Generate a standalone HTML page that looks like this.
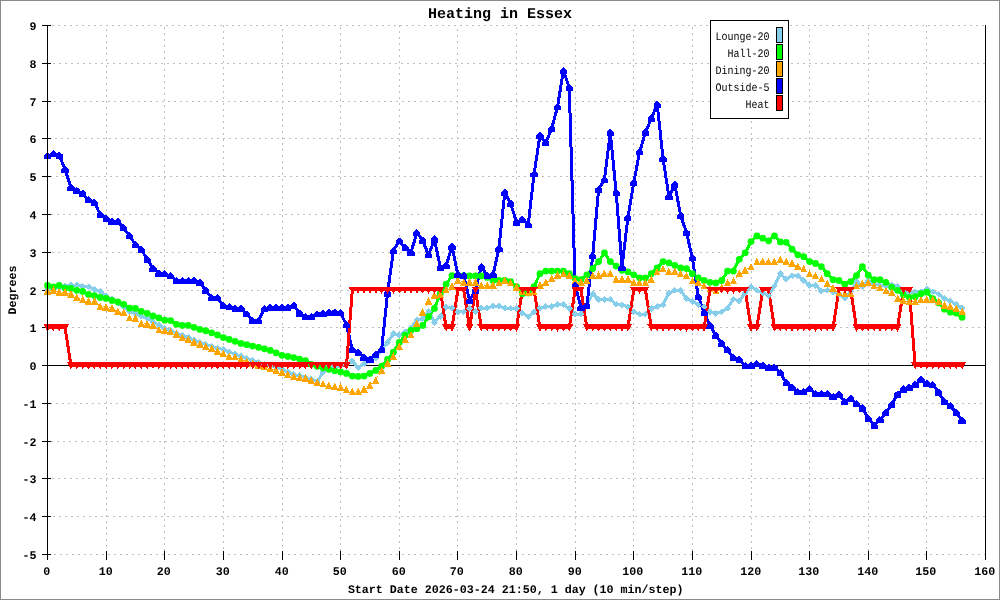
<!DOCTYPE html>
<html lang="en"><head><meta charset="utf-8"><title>Heating in Essex</title>
<style>html,body{margin:0;padding:0;background:#fff}body{width:1000px;height:600px;overflow:hidden}svg{display:block}text{font-family:"Liberation Mono","DejaVu Sans Mono",monospace;fill:#000;text-rendering:geometricPrecision}.b{font-weight:bold;font-size:11.67px}.t{font-weight:bold;font-size:15px}.l{font-size:10px}</style></head><body>
<svg width="1000" height="600" viewBox="0 0 1000 600">
<rect x="0" y="0" width="1000" height="600" fill="#fff"/>
<rect x="0.5" y="0.5" width="999" height="599" fill="none" stroke="#8a8a8a" stroke-width="1" shape-rendering="crispEdges"/>
<g stroke="#bebebe" stroke-width="1" stroke-dasharray="2 4" shape-rendering="crispEdges" fill="none">
<line x1="46" y1="554.5" x2="985" y2="554.5" stroke-dashoffset="4"/>
<line x1="46" y1="516.5" x2="985" y2="516.5" stroke-dashoffset="5"/>
<line x1="46" y1="478.5" x2="985" y2="478.5" stroke-dashoffset="0"/>
<line x1="46" y1="441.5" x2="985" y2="441.5" stroke-dashoffset="1"/>
<line x1="46" y1="403.5" x2="985" y2="403.5" stroke-dashoffset="2"/>
<line x1="46" y1="365.5" x2="985" y2="365.5" stroke-dashoffset="3"/>
<line x1="46" y1="327.5" x2="985" y2="327.5" stroke-dashoffset="4"/>
<line x1="46" y1="290.5" x2="985" y2="290.5" stroke-dashoffset="5"/>
<line x1="46" y1="252.5" x2="985" y2="252.5" stroke-dashoffset="0"/>
<line x1="46" y1="214.5" x2="985" y2="214.5" stroke-dashoffset="1"/>
<line x1="46" y1="176.5" x2="985" y2="176.5" stroke-dashoffset="2"/>
<line x1="46" y1="138.5" x2="985" y2="138.5" stroke-dashoffset="3"/>
<line x1="46" y1="101.5" x2="985" y2="101.5" stroke-dashoffset="4"/>
<line x1="46" y1="63.5" x2="985" y2="63.5" stroke-dashoffset="5"/>
<line x1="46" y1="25.5" x2="985" y2="25.5" stroke-dashoffset="0"/>
<line x1="106.5" y1="25" x2="106.5" y2="555" stroke-dashoffset="2"/>
<line x1="164.5" y1="25" x2="164.5" y2="555" stroke-dashoffset="4"/>
<line x1="223.5" y1="25" x2="223.5" y2="555" stroke-dashoffset="0"/>
<line x1="282.5" y1="25" x2="282.5" y2="555" stroke-dashoffset="2"/>
<line x1="340.5" y1="25" x2="340.5" y2="555" stroke-dashoffset="4"/>
<line x1="399.5" y1="25" x2="399.5" y2="555" stroke-dashoffset="0"/>
<line x1="457.5" y1="25" x2="457.5" y2="555" stroke-dashoffset="2"/>
<line x1="516.5" y1="25" x2="516.5" y2="555" stroke-dashoffset="4"/>
<line x1="575.5" y1="25" x2="575.5" y2="555" stroke-dashoffset="0"/>
<line x1="633.5" y1="25" x2="633.5" y2="555" stroke-dashoffset="2"/>
<line x1="692.5" y1="25" x2="692.5" y2="555" stroke-dashoffset="4"/>
<line x1="751.5" y1="25" x2="751.5" y2="555" stroke-dashoffset="0"/>
<line x1="809.5" y1="25" x2="809.5" y2="555" stroke-dashoffset="2"/>
<line x1="868.5" y1="25" x2="868.5" y2="555" stroke-dashoffset="4"/>
<line x1="926.5" y1="25" x2="926.5" y2="555" stroke-dashoffset="0"/>
</g>
<line x1="47" y1="365.5" x2="986" y2="365.5" stroke="#000" stroke-width="1" shape-rendering="crispEdges"/>
<g stroke="#000" stroke-width="1" shape-rendering="crispEdges">
<line x1="42" y1="554.5" x2="51" y2="554.5"/>
<line x1="42" y1="516.5" x2="51" y2="516.5"/>
<line x1="42" y1="478.5" x2="51" y2="478.5"/>
<line x1="42" y1="441.5" x2="51" y2="441.5"/>
<line x1="42" y1="403.5" x2="51" y2="403.5"/>
<line x1="42" y1="365.5" x2="51" y2="365.5"/>
<line x1="42" y1="327.5" x2="51" y2="327.5"/>
<line x1="42" y1="290.5" x2="51" y2="290.5"/>
<line x1="42" y1="252.5" x2="51" y2="252.5"/>
<line x1="42" y1="214.5" x2="51" y2="214.5"/>
<line x1="42" y1="176.5" x2="51" y2="176.5"/>
<line x1="42" y1="138.5" x2="51" y2="138.5"/>
<line x1="42" y1="101.5" x2="51" y2="101.5"/>
<line x1="42" y1="63.5" x2="51" y2="63.5"/>
<line x1="42" y1="25.5" x2="51" y2="25.5"/>
<line x1="106.5" y1="551" x2="106.5" y2="560"/>
<line x1="164.5" y1="551" x2="164.5" y2="560"/>
<line x1="223.5" y1="551" x2="223.5" y2="560"/>
<line x1="282.5" y1="551" x2="282.5" y2="560"/>
<line x1="340.5" y1="551" x2="340.5" y2="560"/>
<line x1="399.5" y1="551" x2="399.5" y2="560"/>
<line x1="457.5" y1="551" x2="457.5" y2="560"/>
<line x1="516.5" y1="551" x2="516.5" y2="560"/>
<line x1="575.5" y1="551" x2="575.5" y2="560"/>
<line x1="633.5" y1="551" x2="633.5" y2="560"/>
<line x1="692.5" y1="551" x2="692.5" y2="560"/>
<line x1="751.5" y1="551" x2="751.5" y2="560"/>
<line x1="809.5" y1="551" x2="809.5" y2="560"/>
<line x1="868.5" y1="551" x2="868.5" y2="560"/>
<line x1="926.5" y1="551" x2="926.5" y2="560"/>
</g>
<g fill="#87ceeb" stroke="#87ceeb" shape-rendering="crispEdges">
<polyline points="47.5,289.55 53.36,288.42 59.23,287.66 65.09,286.15 70.95,285.02 76.81,285.02 82.67,286.53 88.54,286.91 94.4,289.55 100.26,291.44 106.12,295.6 111.99,299.37 117.85,303.15 123.71,307.31 129.57,311.47 135.44,313.73 141.3,316 147.16,318.46 153.02,321.67 158.89,325.07 164.75,328.47 170.61,330.74 176.47,333 182.34,335.27 188.2,337.54 194.06,340.18 199.92,342.45 205.79,344.34 211.65,346.23 217.51,348.12 223.38,349.63 229.24,351.9 235.1,354.16 240.96,356.24 246.82,358.32 252.69,360.4 258.55,362.48 264.41,364.37 270.27,365.88 276.14,367.58 282,369.28 287.86,371.92 293.73,374.57 299.59,375.7 305.45,377.21 311.31,379.1 317.18,381.75 323.04,371.92 328.9,366.26 334.76,366.26 340.62,365.88 346.49,364.74 352.35,360.97 358.21,367.77 364.07,363.61 369.94,360.59 375.8,357.94 381.66,349.25 387.52,342.45 393.39,333.76 399.25,334.89 405.11,332.25 410.97,328.09 416.84,320.16 422.7,318.46 428.56,311.09 434.43,322.42 440.29,316.38 446.15,306.93 452.01,308.07 457.88,311.84 463.74,311.84 469.6,308.44 475.46,311.84 481.32,308.07 487.19,308.07 493.05,306.18 498.91,306.18 504.77,308.07 510.64,308.07 516.5,308.44 522.36,312.98 528.22,316.76 534.09,311.84 539.95,308.44 545.81,306.55 551.67,306.55 557.54,304.66 563.4,304.66 569.26,308.44 575.12,314.11 580.99,314.11 586.85,305.42 592.71,293.71 598.57,299.75 604.44,299.19 610.3,299.19 616.16,304.29 622.02,304.66 627.89,306.55 633.75,311.84 639.61,314.11 645.48,314.11 651.34,308.44 657.2,306.55 663.06,304.66 668.92,292.95 674.79,290.31 680.65,290.31 686.51,298.62 692.38,301.64 698.24,304.66 704.1,306.55 709.96,312.22 715.82,313.54 721.69,311.84 727.55,308.07 733.41,299.19 739.27,300.89 745.14,292.95 751,286.53 756.86,290.31 762.73,292.95 768.59,295.22 774.45,286.15 780.31,273.68 786.17,279.16 792.04,275.57 797.9,275.57 803.76,280.48 809.62,285.39 815.49,285.39 821.35,291.06 827.21,290.31 833.07,291.82 838.94,294.08 844.8,297.86 850.66,291.82 856.52,281.62 862.39,286.53 868.25,281.05 874.11,283.88 879.98,285.39 885.84,286.15 891.7,284.83 897.56,286.72 903.42,291.82 909.29,292.95 915.15,291.82 921.01,291.82 926.88,289.17 932.74,291.82 938.6,294.08 944.46,298.62 950.32,301.07 956.19,304.29 962.05,308.07" fill="none" stroke-width="3" stroke-linejoin="round"/>
</g>
<g fill="#00ff00" stroke="#00ff00" shape-rendering="crispEdges">
<polyline points="47.5,285.39 53.36,286.91 59.23,285.39 65.09,288.04 70.95,288.42 76.81,290.31 82.67,291.44 88.54,294.46 94.4,295.6 100.26,297.49 106.12,298.43 111.99,300.51 117.85,302.02 123.71,304.29 129.57,308.07 135.44,308.44 141.3,311.47 147.16,313.36 153.02,316 158.89,317.89 164.75,320.16 170.61,320.53 176.47,324.31 182.34,325.45 188.2,325.45 194.06,327.34 199.92,329.41 205.79,330.74 211.65,332.82 217.51,334.89 223.38,337.54 229.24,339.43 235.1,341.32 240.96,343.4 246.82,344.72 252.69,346.04 258.55,347.36 264.41,348.87 270.27,350.39 276.14,352.84 282,355.3 287.86,356.43 293.73,357.56 299.59,359.08 305.45,360.59 311.31,364.37 317.18,366.26 323.04,367.77 328.9,369.28 334.76,370.79 340.62,371.92 346.49,373.44 352.35,376.08 358.21,376.46 364.07,376.08 369.94,373.44 375.8,370.41 381.66,366.26 387.52,359.45 393.39,352.27 399.25,342.45 405.11,335.27 410.97,330.36 416.84,328.66 422.7,325.45 428.56,316.76 434.43,308.44 440.29,293.71 446.15,284.26 452.01,275.57 457.88,275.57 463.74,275.57 469.6,275.95 475.46,275.95 481.32,275.95 487.19,277.46 493.05,280.48 498.91,280.48 504.77,280.48 510.64,281.62 516.5,286.53 522.36,293.71 528.22,292.95 534.09,286.53 539.95,273.68 545.81,271.03 551.67,271.03 557.54,271.03 563.4,271.03 569.26,273.68 575.12,278.59 580.99,279.73 586.85,274.81 592.71,268.58 598.57,261.59 604.44,252.9 610.3,261.59 616.16,266.12 622.02,270.28 627.89,271.79 633.75,274.81 639.61,277.84 645.48,277.84 651.34,273.68 657.2,268.01 663.06,261.59 668.92,262.91 674.79,265.37 680.65,268.01 686.51,268.58 692.38,273.68 698.24,277.84 704.1,280.48 709.96,282.37 715.82,282.94 721.69,280.48 727.55,271.03 733.41,271.03 739.27,259.32 745.14,252.9 751,241.56 756.86,235.89 762.73,238.16 768.59,240.81 774.45,235.89 780.31,241.94 786.17,242.32 792.04,249.12 797.9,254.79 803.76,256.68 809.62,261.59 815.49,263.48 821.35,266.69 827.21,273.68 833.07,279.73 838.94,280.48 844.8,284.26 850.66,281.62 856.52,275.57 862.39,266.69 868.25,275.19 874.11,279.73 879.98,279.73 885.84,282.37 891.7,287.28 897.56,290.31 903.42,294.84 909.29,297.3 915.15,296.73 921.01,293.71 926.88,292.2 932.74,298.62 938.6,302.78 944.46,309.2 950.32,312.22 956.19,312.98 962.05,317.32" fill="none" stroke-width="3" stroke-linejoin="round"/>
</g>
<g fill="#ffa500" stroke="#ffa500" shape-rendering="crispEdges">
<polyline points="47.5,291.44 53.36,290.31 59.23,292.2 65.09,292.2 70.95,294.46 76.81,297.49 82.67,299.37 88.54,301.26 94.4,301.26 100.26,306.55 106.12,307.31 111.99,308.44 117.85,311.47 123.71,312.98 129.57,317.89 135.44,318.46 141.3,323.56 147.16,324.31 153.02,325.45 158.89,329.98 164.75,330.36 170.61,332.06 176.47,334.52 182.34,337.54 188.2,339.43 194.06,342.45 199.92,344.34 205.79,346.61 211.65,348.5 217.51,351.52 223.38,353.79 229.24,356.43 235.1,357.19 240.96,359.08 246.82,361.34 252.69,363.61 258.55,365.5 264.41,367.01 270.27,368.52 276.14,370.41 282,372.3 287.86,374.57 293.73,376.46 299.59,377.59 305.45,378.35 311.31,380.61 317.18,382.5 323.04,384.02 328.9,385.53 334.76,386.66 340.62,387.42 346.49,389.68 352.35,391.95 358.21,391.95 364.07,389.31 369.94,385.53 375.8,380.24 381.66,370.41 387.52,363.42 393.39,356.43 399.25,346.42 405.11,339.43 410.97,334.89 416.84,323.56 422.7,312.22 428.56,301.26 434.43,295.78 440.29,294.65 446.15,289.93 452.01,286.53 457.88,280.48 463.74,282.37 469.6,282.37 475.46,282.37 481.32,285.39 487.19,285.39 493.05,285.39 498.91,282.94 504.77,280.48 510.64,282.94 516.5,287.28 522.36,291.82 528.22,292.95 534.09,291.82 539.95,285.39 545.81,282.37 551.67,278.59 557.54,275.57 563.4,274.06 569.26,275.95 575.12,281.05 580.99,282.37 586.85,280.48 592.71,275.95 598.57,275.57 604.44,273.68 610.3,273.68 616.16,279.35 622.02,279.35 627.89,279.35 633.75,282.94 639.61,282.94 645.48,282.94 651.34,279.35 657.2,272.17 663.06,269.15 668.92,271.79 674.79,271.79 680.65,274.06 686.51,275.95 692.38,281.05 698.24,282.94 704.1,286.15 709.96,289.17 715.82,291.06 721.69,288.04 727.55,282.94 733.41,281.05 739.27,274.06 745.14,270.28 751,266.88 756.86,261.97 762.73,261.97 768.59,261.97 774.45,261.59 780.31,259.7 786.17,261.59 792.04,263.48 797.9,266.69 803.76,269.15 809.62,274.06 815.49,275.95 821.35,279.16 827.21,283.5 833.07,288.42 838.94,292.95 844.8,294.08 850.66,293.71 856.52,286.15 862.39,283.5 868.25,282.94 874.11,286.15 879.98,288.04 885.84,291.06 891.7,292.95 897.56,298.62 903.42,300.51 909.29,301.64 915.15,301.64 921.01,299.75 926.88,299.75 932.74,299.75 938.6,301.64 944.46,305.42 950.32,306.55 956.19,308.44 962.05,311.65" fill="none" stroke-width="1" stroke-linejoin="round" stroke-dasharray="1 2"/>
</g>
<g fill="#0000ff" stroke="#0000ff" shape-rendering="crispEdges">
<polyline points="47.5,155.6 53.36,154.09 59.23,155.22 65.09,169.58 70.95,187.72 76.81,190.74 82.67,193.38 88.54,200.19 94.4,202.45 100.26,214.54 106.12,218.32 111.99,221.35 117.85,221.35 123.71,228.15 129.57,235.71 135.44,244.77 141.3,249.31 147.16,259.51 153.02,268.39 158.89,273.3 164.75,274.06 170.61,275.95 176.47,280.86 182.34,280.86 188.2,280.86 194.06,280.86 199.92,282.75 205.79,290.31 211.65,297.86 217.51,297.86 223.38,305.42 229.24,306.93 235.1,308.44 240.96,308.44 246.82,314.11 252.69,320.91 258.55,320.91 264.41,308.82 270.27,307.31 276.14,307.31 282,307.31 287.86,307.31 293.73,305.42 299.59,313.36 305.45,316.76 311.31,316.76 317.18,314.11 323.04,313.73 328.9,312.22 334.76,312.22 340.62,312.98 346.49,325.07 352.35,349.44 358.21,352.46 364.07,357.56 369.94,359.45 375.8,354.54 381.66,349.44 387.52,293.33 393.39,250.63 399.25,241.18 405.11,247.61 410.97,252.52 416.84,232.87 422.7,240.43 428.56,255.16 434.43,239.29 440.29,267.26 446.15,265.37 452.01,246.47 457.88,274.81 463.74,275.57 469.6,300.51 475.46,290.31 481.32,266.88 487.19,275.57 493.05,274.81 498.91,248.36 504.77,192.44 510.64,203.4 516.5,222.29 522.36,219.46 528.22,224.56 534.09,173.92 539.95,135.38 545.81,142.56 551.67,128.58 557.54,106.67 563.4,70.77 569.26,87.4 575.12,285.39 580.99,307.31 586.85,305.42 592.71,255.92 598.57,189.42 604.44,179.59 610.3,132.36 616.16,192.44 622.02,267.26 627.89,217.38 633.75,182.43 639.61,152.01 645.48,132.36 651.34,118.38 657.2,104.4 663.06,158.43 668.92,196.6 674.79,184.51 680.65,215.49 686.51,232.49 692.38,258.19 698.24,296.35 704.1,312.6 709.96,325.45 715.82,335.46 721.69,343.58 727.55,350.01 733.41,357.56 739.27,359.45 745.14,365.88 751,365.88 756.86,363.99 762.73,365.5 768.59,367.39 774.45,367.39 780.31,372.68 786.17,382.88 792.04,387.42 797.9,391.95 803.76,391.95 809.62,388.93 815.49,393.84 821.35,393.84 827.21,393.84 833.07,396.86 838.94,394.22 844.8,401.77 850.66,398.56 856.52,403.66 862.39,408.2 868.25,418.4 874.11,425.39 879.98,419.91 885.84,412.73 891.7,404.42 897.56,394.41 903.42,389.31 909.29,387.42 915.15,384.77 921.01,379.48 926.88,383.26 932.74,384.77 938.6,392.33 944.46,401.4 950.32,405.93 956.19,412.73 962.05,420.29" fill="none" stroke-width="3" stroke-linejoin="round"/>
</g>
<g fill="#ff0000" stroke="#ff0000" shape-rendering="crispEdges">
<polyline points="47.5,327.71 53.36,327.71 59.23,327.71 65.09,327.71 70.95,365.5 76.81,365.5 82.67,365.5 88.54,365.5 94.4,365.5 100.26,365.5 106.12,365.5 111.99,365.5 117.85,365.5 123.71,365.5 129.57,365.5 135.44,365.5 141.3,365.5 147.16,365.5 153.02,365.5 158.89,365.5 164.75,365.5 170.61,365.5 176.47,365.5 182.34,365.5 188.2,365.5 194.06,365.5 199.92,365.5 205.79,365.5 211.65,365.5 217.51,365.5 223.38,365.5 229.24,365.5 235.1,365.5 240.96,365.5 246.82,365.5 252.69,365.5 258.55,365.5 264.41,365.5 270.27,365.5 276.14,365.5 282,365.5 287.86,365.5 293.73,365.5 299.59,365.5 305.45,365.5 311.31,365.5 317.18,365.5 323.04,365.5 328.9,365.5 334.76,365.5 340.62,365.5 346.49,365.5 352.35,289.93 358.21,289.93 364.07,289.93 369.94,289.93 375.8,289.93 381.66,289.93 387.52,289.93 393.39,289.93 399.25,289.93 405.11,289.93 410.97,289.93 416.84,289.93 422.7,289.93 428.56,289.93 434.43,289.93 440.29,289.93 446.15,327.71 452.01,327.71 457.88,289.93 463.74,289.93 469.6,327.71 475.46,289.93 481.32,327.71 487.19,327.71 493.05,327.71 498.91,327.71 504.77,327.71 510.64,327.71 516.5,327.71 522.36,289.93 528.22,289.93 534.09,289.93 539.95,327.71 545.81,327.71 551.67,327.71 557.54,327.71 563.4,327.71 569.26,327.71 575.12,289.93 580.99,289.93 586.85,327.71 592.71,327.71 598.57,327.71 604.44,327.71 610.3,327.71 616.16,327.71 622.02,327.71 627.89,327.71 633.75,289.93 639.61,289.93 645.48,289.93 651.34,327.71 657.2,327.71 663.06,327.71 668.92,327.71 674.79,327.71 680.65,327.71 686.51,327.71 692.38,327.71 698.24,327.71 704.1,327.71 709.96,289.93 715.82,289.93 721.69,289.93 727.55,289.93 733.41,289.93 739.27,289.93 745.14,289.93 751,327.71 756.86,327.71 762.73,289.93 768.59,289.93 774.45,327.71 780.31,327.71 786.17,327.71 792.04,327.71 797.9,327.71 803.76,327.71 809.62,327.71 815.49,327.71 821.35,327.71 827.21,327.71 833.07,327.71 838.94,289.93 844.8,289.93 850.66,289.93 856.52,327.71 862.39,327.71 868.25,327.71 874.11,327.71 879.98,327.71 885.84,327.71 891.7,327.71 897.56,327.71 903.42,289.93 909.29,289.93 915.15,365.5 921.01,365.5 926.88,365.5 932.74,365.5 938.6,365.5 944.46,365.5 950.32,365.5 956.19,365.5 962.05,365.5" fill="none" stroke-width="3" stroke-linejoin="round"/>
</g>
<g fill="#87ceeb" stroke="#87ceeb" shape-rendering="crispEdges">
<path d="M47.5 286.15L50.9 289.55L47.5 292.95L44.1 289.55ZM53.36 285.02L56.76 288.42L53.36 291.82L49.96 288.42ZM59.23 284.26L62.62 287.66L59.23 291.06L55.83 287.66ZM65.09 282.75L68.49 286.15L65.09 289.55L61.69 286.15ZM70.95 281.62L74.35 285.02L70.95 288.42L67.55 285.02ZM76.81 281.62L80.21 285.02L76.81 288.42L73.41 285.02ZM82.67 283.13L86.08 286.53L82.67 289.93L79.27 286.53ZM88.54 283.51L91.94 286.91L88.54 290.31L85.14 286.91ZM94.4 286.15L97.8 289.55L94.4 292.95L91 289.55ZM100.26 288.04L103.66 291.44L100.26 294.84L96.86 291.44ZM106.12 292.2L109.53 295.6L106.12 299L102.72 295.6ZM111.99 295.97L115.39 299.37L111.99 302.77L108.59 299.37ZM117.85 299.75L121.25 303.15L117.85 306.55L114.45 303.15ZM123.71 303.91L127.11 307.31L123.71 310.71L120.31 307.31ZM129.57 308.07L132.97 311.47L129.57 314.87L126.17 311.47ZM135.44 310.33L138.84 313.73L135.44 317.13L132.04 313.73ZM141.3 312.6L144.7 316L141.3 319.4L137.9 316ZM147.16 315.06L150.56 318.46L147.16 321.86L143.76 318.46ZM153.02 318.27L156.42 321.67L153.02 325.07L149.62 321.67ZM158.89 321.67L162.29 325.07L158.89 328.47L155.49 325.07ZM164.75 325.07L168.15 328.47L164.75 331.87L161.35 328.47ZM170.61 327.34L174.01 330.74L170.61 334.14L167.21 330.74ZM176.47 329.6L179.88 333L176.47 336.4L173.07 333ZM182.34 331.87L185.74 335.27L182.34 338.67L178.94 335.27ZM188.2 334.14L191.6 337.54L188.2 340.94L184.8 337.54ZM194.06 336.78L197.46 340.18L194.06 343.58L190.66 340.18ZM199.92 339.05L203.32 342.45L199.92 345.85L196.52 342.45ZM205.79 340.94L209.19 344.34L205.79 347.74L202.39 344.34ZM211.65 342.83L215.05 346.23L211.65 349.63L208.25 346.23ZM217.51 344.72L220.91 348.12L217.51 351.52L214.11 348.12ZM223.38 346.23L226.78 349.63L223.38 353.03L219.97 349.63ZM229.24 348.5L232.64 351.9L229.24 355.3L225.84 351.9ZM235.1 350.76L238.5 354.16L235.1 357.56L231.7 354.16ZM240.96 352.84L244.36 356.24L240.96 359.64L237.56 356.24ZM246.82 354.92L250.22 358.32L246.82 361.72L243.42 358.32ZM252.69 357L256.09 360.4L252.69 363.8L249.29 360.4ZM258.55 359.08L261.95 362.48L258.55 365.88L255.15 362.48ZM264.41 360.97L267.81 364.37L264.41 367.77L261.01 364.37ZM270.27 362.48L273.67 365.88L270.27 369.28L266.88 365.88ZM276.14 364.18L279.54 367.58L276.14 370.98L272.74 367.58ZM282 365.88L285.4 369.28L282 372.68L278.6 369.28ZM287.86 368.52L291.26 371.92L287.86 375.32L284.46 371.92ZM293.73 371.17L297.12 374.57L293.73 377.97L290.33 374.57ZM299.59 372.3L302.99 375.7L299.59 379.1L296.19 375.7ZM305.45 373.81L308.85 377.21L305.45 380.61L302.05 377.21ZM311.31 375.7L314.71 379.1L311.31 382.5L307.91 379.1ZM317.18 378.35L320.57 381.75L317.18 385.15L313.78 381.75ZM323.04 368.52L326.44 371.92L323.04 375.32L319.64 371.92ZM328.9 362.86L332.3 366.26L328.9 369.66L325.5 366.26ZM334.76 362.86L338.16 366.26L334.76 369.66L331.36 366.26ZM340.62 362.48L344.02 365.88L340.62 369.28L337.23 365.88ZM346.49 361.34L349.89 364.74L346.49 368.14L343.09 364.74ZM352.35 357.57L355.75 360.97L352.35 364.37L348.95 360.97ZM358.21 364.37L361.61 367.77L358.21 371.17L354.81 367.77ZM364.07 360.21L367.47 363.61L364.07 367.01L360.68 363.61ZM369.94 357.19L373.34 360.59L369.94 363.99L366.54 360.59ZM375.8 354.54L379.2 357.94L375.8 361.34L372.4 357.94ZM381.66 345.85L385.06 349.25L381.66 352.65L378.26 349.25ZM387.52 339.05L390.92 342.45L387.52 345.85L384.12 342.45ZM393.39 330.36L396.79 333.76L393.39 337.16L389.99 333.76ZM399.25 331.49L402.65 334.89L399.25 338.29L395.85 334.89ZM405.11 328.85L408.51 332.25L405.11 335.65L401.71 332.25ZM410.97 324.69L414.37 328.09L410.97 331.49L407.57 328.09ZM416.84 316.76L420.24 320.16L416.84 323.56L413.44 320.16ZM422.7 315.06L426.1 318.46L422.7 321.86L419.3 318.46ZM428.56 307.69L431.96 311.09L428.56 314.49L425.16 311.09ZM434.43 319.02L437.82 322.42L434.43 325.82L431.03 322.42ZM440.29 312.98L443.69 316.38L440.29 319.78L436.89 316.38ZM446.15 303.53L449.55 306.93L446.15 310.33L442.75 306.93ZM452.01 304.67L455.41 308.07L452.01 311.47L448.61 308.07ZM457.88 308.44L461.27 311.84L457.88 315.24L454.48 311.84ZM463.74 308.44L467.14 311.84L463.74 315.24L460.34 311.84ZM469.6 305.04L473 308.44L469.6 311.84L466.2 308.44ZM475.46 308.44L478.86 311.84L475.46 315.24L472.06 311.84ZM481.32 304.67L484.72 308.07L481.32 311.47L477.93 308.07ZM487.19 304.67L490.59 308.07L487.19 311.47L483.79 308.07ZM493.05 302.78L496.45 306.18L493.05 309.58L489.65 306.18ZM498.91 302.78L502.31 306.18L498.91 309.58L495.51 306.18ZM504.77 304.67L508.17 308.07L504.77 311.47L501.38 308.07ZM510.64 304.67L514.04 308.07L510.64 311.47L507.24 308.07ZM516.5 305.04L519.9 308.44L516.5 311.84L513.1 308.44ZM522.36 309.58L525.76 312.98L522.36 316.38L518.96 312.98ZM528.22 313.36L531.62 316.76L528.22 320.16L524.82 316.76ZM534.09 308.44L537.49 311.84L534.09 315.24L530.69 311.84ZM539.95 305.04L543.35 308.44L539.95 311.84L536.55 308.44ZM545.81 303.15L549.21 306.55L545.81 309.95L542.41 306.55ZM551.67 303.15L555.07 306.55L551.67 309.95L548.27 306.55ZM557.54 301.26L560.94 304.66L557.54 308.06L554.14 304.66ZM563.4 301.26L566.8 304.66L563.4 308.06L560 304.66ZM569.26 305.04L572.66 308.44L569.26 311.84L565.86 308.44ZM575.12 310.71L578.52 314.11L575.12 317.51L571.73 314.11ZM580.99 310.71L584.39 314.11L580.99 317.51L577.59 314.11ZM586.85 302.02L590.25 305.42L586.85 308.82L583.45 305.42ZM592.71 290.31L596.11 293.71L592.71 297.11L589.31 293.71ZM598.57 296.35L601.97 299.75L598.57 303.15L595.17 299.75ZM604.44 295.79L607.84 299.19L604.44 302.59L601.04 299.19ZM610.3 295.79L613.7 299.19L610.3 302.59L606.9 299.19ZM616.16 300.89L619.56 304.29L616.16 307.69L612.76 304.29ZM622.02 301.26L625.42 304.66L622.02 308.06L618.62 304.66ZM627.89 303.15L631.29 306.55L627.89 309.95L624.49 306.55ZM633.75 308.44L637.15 311.84L633.75 315.24L630.35 311.84ZM639.61 310.71L643.01 314.11L639.61 317.51L636.21 314.11ZM645.48 310.71L648.88 314.11L645.48 317.51L642.08 314.11ZM651.34 305.04L654.74 308.44L651.34 311.84L647.94 308.44ZM657.2 303.15L660.6 306.55L657.2 309.95L653.8 306.55ZM663.06 301.26L666.46 304.66L663.06 308.06L659.66 304.66ZM668.92 289.55L672.32 292.95L668.92 296.35L665.52 292.95ZM674.79 286.91L678.19 290.31L674.79 293.71L671.39 290.31ZM680.65 286.91L684.05 290.31L680.65 293.71L677.25 290.31ZM686.51 295.22L689.91 298.62L686.51 302.02L683.11 298.62ZM692.38 298.24L695.77 301.64L692.38 305.04L688.98 301.64ZM698.24 301.26L701.64 304.66L698.24 308.06L694.84 304.66ZM704.1 303.15L707.5 306.55L704.1 309.95L700.7 306.55ZM709.96 308.82L713.36 312.22L709.96 315.62L706.56 312.22ZM715.82 310.14L719.22 313.54L715.82 316.94L712.42 313.54ZM721.69 308.44L725.09 311.84L721.69 315.24L718.29 311.84ZM727.55 304.67L730.95 308.07L727.55 311.47L724.15 308.07ZM733.41 295.79L736.81 299.19L733.41 302.59L730.01 299.19ZM739.27 297.49L742.67 300.89L739.27 304.29L735.88 300.89ZM745.14 289.55L748.54 292.95L745.14 296.35L741.74 292.95ZM751 283.13L754.4 286.53L751 289.93L747.6 286.53ZM756.86 286.91L760.26 290.31L756.86 293.71L753.46 290.31ZM762.73 289.55L766.12 292.95L762.73 296.35L759.33 292.95ZM768.59 291.82L771.99 295.22L768.59 298.62L765.19 295.22ZM774.45 282.75L777.85 286.15L774.45 289.55L771.05 286.15ZM780.31 270.28L783.71 273.68L780.31 277.08L776.91 273.68ZM786.17 275.76L789.57 279.16L786.17 282.56L782.77 279.16ZM792.04 272.17L795.44 275.57L792.04 278.97L788.64 275.57ZM797.9 272.17L801.3 275.57L797.9 278.97L794.5 275.57ZM803.76 277.08L807.16 280.48L803.76 283.88L800.36 280.48ZM809.62 281.99L813.02 285.39L809.62 288.79L806.23 285.39ZM815.49 281.99L818.89 285.39L815.49 288.79L812.09 285.39ZM821.35 287.66L824.75 291.06L821.35 294.46L817.95 291.06ZM827.21 286.91L830.61 290.31L827.21 293.71L823.81 290.31ZM833.07 288.42L836.47 291.82L833.07 295.22L829.67 291.82ZM838.94 290.68L842.34 294.08L838.94 297.48L835.54 294.08ZM844.8 294.46L848.2 297.86L844.8 301.26L841.4 297.86ZM850.66 288.42L854.06 291.82L850.66 295.22L847.26 291.82ZM856.52 278.22L859.92 281.62L856.52 285.02L853.12 281.62ZM862.39 283.13L865.79 286.53L862.39 289.93L858.99 286.53ZM868.25 277.65L871.65 281.05L868.25 284.45L864.85 281.05ZM874.11 280.48L877.51 283.88L874.11 287.28L870.71 283.88ZM879.98 281.99L883.38 285.39L879.98 288.79L876.58 285.39ZM885.84 282.75L889.24 286.15L885.84 289.55L882.44 286.15ZM891.7 281.43L895.1 284.83L891.7 288.23L888.3 284.83ZM897.56 283.32L900.96 286.72L897.56 290.12L894.16 286.72ZM903.42 288.42L906.82 291.82L903.42 295.22L900.02 291.82ZM909.29 289.55L912.69 292.95L909.29 296.35L905.89 292.95ZM915.15 288.42L918.55 291.82L915.15 295.22L911.75 291.82ZM921.01 288.42L924.41 291.82L921.01 295.22L917.61 291.82ZM926.88 285.77L930.27 289.17L926.88 292.57L923.48 289.17ZM932.74 288.42L936.14 291.82L932.74 295.22L929.34 291.82ZM938.6 290.68L942 294.08L938.6 297.48L935.2 294.08ZM944.46 295.22L947.86 298.62L944.46 302.02L941.06 298.62ZM950.32 297.67L953.72 301.07L950.32 304.47L946.92 301.07ZM956.19 300.89L959.59 304.29L956.19 307.69L952.79 304.29ZM962.05 304.67L965.45 308.07L962.05 311.47L958.65 308.07Z" stroke-width="0" stroke-linejoin="round"/>
</g>
<g fill="#00ff00" stroke="#00ff00" shape-rendering="crispEdges">
<g stroke="none" shape-rendering="auto">
<circle cx="47.5" cy="285.39" r="3.4"/>
<circle cx="53.36" cy="286.91" r="3.4"/>
<circle cx="59.23" cy="285.39" r="3.4"/>
<circle cx="65.09" cy="288.04" r="3.4"/>
<circle cx="70.95" cy="288.42" r="3.4"/>
<circle cx="76.81" cy="290.31" r="3.4"/>
<circle cx="82.67" cy="291.44" r="3.4"/>
<circle cx="88.54" cy="294.46" r="3.4"/>
<circle cx="94.4" cy="295.6" r="3.4"/>
<circle cx="100.26" cy="297.49" r="3.4"/>
<circle cx="106.12" cy="298.43" r="3.4"/>
<circle cx="111.99" cy="300.51" r="3.4"/>
<circle cx="117.85" cy="302.02" r="3.4"/>
<circle cx="123.71" cy="304.29" r="3.4"/>
<circle cx="129.57" cy="308.07" r="3.4"/>
<circle cx="135.44" cy="308.44" r="3.4"/>
<circle cx="141.3" cy="311.47" r="3.4"/>
<circle cx="147.16" cy="313.36" r="3.4"/>
<circle cx="153.02" cy="316" r="3.4"/>
<circle cx="158.89" cy="317.89" r="3.4"/>
<circle cx="164.75" cy="320.16" r="3.4"/>
<circle cx="170.61" cy="320.53" r="3.4"/>
<circle cx="176.47" cy="324.31" r="3.4"/>
<circle cx="182.34" cy="325.45" r="3.4"/>
<circle cx="188.2" cy="325.45" r="3.4"/>
<circle cx="194.06" cy="327.34" r="3.4"/>
<circle cx="199.92" cy="329.41" r="3.4"/>
<circle cx="205.79" cy="330.74" r="3.4"/>
<circle cx="211.65" cy="332.82" r="3.4"/>
<circle cx="217.51" cy="334.89" r="3.4"/>
<circle cx="223.38" cy="337.54" r="3.4"/>
<circle cx="229.24" cy="339.43" r="3.4"/>
<circle cx="235.1" cy="341.32" r="3.4"/>
<circle cx="240.96" cy="343.4" r="3.4"/>
<circle cx="246.82" cy="344.72" r="3.4"/>
<circle cx="252.69" cy="346.04" r="3.4"/>
<circle cx="258.55" cy="347.36" r="3.4"/>
<circle cx="264.41" cy="348.87" r="3.4"/>
<circle cx="270.27" cy="350.39" r="3.4"/>
<circle cx="276.14" cy="352.84" r="3.4"/>
<circle cx="282" cy="355.3" r="3.4"/>
<circle cx="287.86" cy="356.43" r="3.4"/>
<circle cx="293.73" cy="357.56" r="3.4"/>
<circle cx="299.59" cy="359.08" r="3.4"/>
<circle cx="305.45" cy="360.59" r="3.4"/>
<circle cx="311.31" cy="364.37" r="3.4"/>
<circle cx="317.18" cy="366.26" r="3.4"/>
<circle cx="323.04" cy="367.77" r="3.4"/>
<circle cx="328.9" cy="369.28" r="3.4"/>
<circle cx="334.76" cy="370.79" r="3.4"/>
<circle cx="340.62" cy="371.92" r="3.4"/>
<circle cx="346.49" cy="373.44" r="3.4"/>
<circle cx="352.35" cy="376.08" r="3.4"/>
<circle cx="358.21" cy="376.46" r="3.4"/>
<circle cx="364.07" cy="376.08" r="3.4"/>
<circle cx="369.94" cy="373.44" r="3.4"/>
<circle cx="375.8" cy="370.41" r="3.4"/>
<circle cx="381.66" cy="366.26" r="3.4"/>
<circle cx="387.52" cy="359.45" r="3.4"/>
<circle cx="393.39" cy="352.27" r="3.4"/>
<circle cx="399.25" cy="342.45" r="3.4"/>
<circle cx="405.11" cy="335.27" r="3.4"/>
<circle cx="410.97" cy="330.36" r="3.4"/>
<circle cx="416.84" cy="328.66" r="3.4"/>
<circle cx="422.7" cy="325.45" r="3.4"/>
<circle cx="428.56" cy="316.76" r="3.4"/>
<circle cx="434.43" cy="308.44" r="3.4"/>
<circle cx="440.29" cy="293.71" r="3.4"/>
<circle cx="446.15" cy="284.26" r="3.4"/>
<circle cx="452.01" cy="275.57" r="3.4"/>
<circle cx="457.88" cy="275.57" r="3.4"/>
<circle cx="463.74" cy="275.57" r="3.4"/>
<circle cx="469.6" cy="275.95" r="3.4"/>
<circle cx="475.46" cy="275.95" r="3.4"/>
<circle cx="481.32" cy="275.95" r="3.4"/>
<circle cx="487.19" cy="277.46" r="3.4"/>
<circle cx="493.05" cy="280.48" r="3.4"/>
<circle cx="498.91" cy="280.48" r="3.4"/>
<circle cx="504.77" cy="280.48" r="3.4"/>
<circle cx="510.64" cy="281.62" r="3.4"/>
<circle cx="516.5" cy="286.53" r="3.4"/>
<circle cx="522.36" cy="293.71" r="3.4"/>
<circle cx="528.22" cy="292.95" r="3.4"/>
<circle cx="534.09" cy="286.53" r="3.4"/>
<circle cx="539.95" cy="273.68" r="3.4"/>
<circle cx="545.81" cy="271.03" r="3.4"/>
<circle cx="551.67" cy="271.03" r="3.4"/>
<circle cx="557.54" cy="271.03" r="3.4"/>
<circle cx="563.4" cy="271.03" r="3.4"/>
<circle cx="569.26" cy="273.68" r="3.4"/>
<circle cx="575.12" cy="278.59" r="3.4"/>
<circle cx="580.99" cy="279.73" r="3.4"/>
<circle cx="586.85" cy="274.81" r="3.4"/>
<circle cx="592.71" cy="268.58" r="3.4"/>
<circle cx="598.57" cy="261.59" r="3.4"/>
<circle cx="604.44" cy="252.9" r="3.4"/>
<circle cx="610.3" cy="261.59" r="3.4"/>
<circle cx="616.16" cy="266.12" r="3.4"/>
<circle cx="622.02" cy="270.28" r="3.4"/>
<circle cx="627.89" cy="271.79" r="3.4"/>
<circle cx="633.75" cy="274.81" r="3.4"/>
<circle cx="639.61" cy="277.84" r="3.4"/>
<circle cx="645.48" cy="277.84" r="3.4"/>
<circle cx="651.34" cy="273.68" r="3.4"/>
<circle cx="657.2" cy="268.01" r="3.4"/>
<circle cx="663.06" cy="261.59" r="3.4"/>
<circle cx="668.92" cy="262.91" r="3.4"/>
<circle cx="674.79" cy="265.37" r="3.4"/>
<circle cx="680.65" cy="268.01" r="3.4"/>
<circle cx="686.51" cy="268.58" r="3.4"/>
<circle cx="692.38" cy="273.68" r="3.4"/>
<circle cx="698.24" cy="277.84" r="3.4"/>
<circle cx="704.1" cy="280.48" r="3.4"/>
<circle cx="709.96" cy="282.37" r="3.4"/>
<circle cx="715.82" cy="282.94" r="3.4"/>
<circle cx="721.69" cy="280.48" r="3.4"/>
<circle cx="727.55" cy="271.03" r="3.4"/>
<circle cx="733.41" cy="271.03" r="3.4"/>
<circle cx="739.27" cy="259.32" r="3.4"/>
<circle cx="745.14" cy="252.9" r="3.4"/>
<circle cx="751" cy="241.56" r="3.4"/>
<circle cx="756.86" cy="235.89" r="3.4"/>
<circle cx="762.73" cy="238.16" r="3.4"/>
<circle cx="768.59" cy="240.81" r="3.4"/>
<circle cx="774.45" cy="235.89" r="3.4"/>
<circle cx="780.31" cy="241.94" r="3.4"/>
<circle cx="786.17" cy="242.32" r="3.4"/>
<circle cx="792.04" cy="249.12" r="3.4"/>
<circle cx="797.9" cy="254.79" r="3.4"/>
<circle cx="803.76" cy="256.68" r="3.4"/>
<circle cx="809.62" cy="261.59" r="3.4"/>
<circle cx="815.49" cy="263.48" r="3.4"/>
<circle cx="821.35" cy="266.69" r="3.4"/>
<circle cx="827.21" cy="273.68" r="3.4"/>
<circle cx="833.07" cy="279.73" r="3.4"/>
<circle cx="838.94" cy="280.48" r="3.4"/>
<circle cx="844.8" cy="284.26" r="3.4"/>
<circle cx="850.66" cy="281.62" r="3.4"/>
<circle cx="856.52" cy="275.57" r="3.4"/>
<circle cx="862.39" cy="266.69" r="3.4"/>
<circle cx="868.25" cy="275.19" r="3.4"/>
<circle cx="874.11" cy="279.73" r="3.4"/>
<circle cx="879.98" cy="279.73" r="3.4"/>
<circle cx="885.84" cy="282.37" r="3.4"/>
<circle cx="891.7" cy="287.28" r="3.4"/>
<circle cx="897.56" cy="290.31" r="3.4"/>
<circle cx="903.42" cy="294.84" r="3.4"/>
<circle cx="909.29" cy="297.3" r="3.4"/>
<circle cx="915.15" cy="296.73" r="3.4"/>
<circle cx="921.01" cy="293.71" r="3.4"/>
<circle cx="926.88" cy="292.2" r="3.4"/>
<circle cx="932.74" cy="298.62" r="3.4"/>
<circle cx="938.6" cy="302.78" r="3.4"/>
<circle cx="944.46" cy="309.2" r="3.4"/>
<circle cx="950.32" cy="312.22" r="3.4"/>
<circle cx="956.19" cy="312.98" r="3.4"/>
<circle cx="962.05" cy="317.32" r="3.4"/>
</g>
</g>
<g fill="#ffa500" stroke="#ffa500" shape-rendering="crispEdges">
<path d="M43.8 294.74L47.5 287.24L51.2 294.74ZM49.66 293.61L53.36 286.11L57.06 293.61ZM55.52 295.5L59.23 288L62.93 295.5ZM61.39 295.5L65.09 288L68.79 295.5ZM67.25 297.76L70.95 290.26L74.65 297.76ZM73.11 300.79L76.81 293.29L80.51 300.79ZM78.97 302.67L82.67 295.17L86.38 302.67ZM84.84 304.56L88.54 297.06L92.24 304.56ZM90.7 304.56L94.4 297.06L98.1 304.56ZM96.56 309.85L100.26 302.35L103.96 309.85ZM102.42 310.61L106.12 303.11L109.83 310.61ZM108.29 311.74L111.99 304.24L115.69 311.74ZM114.15 314.77L117.85 307.27L121.55 314.77ZM120.01 316.28L123.71 308.78L127.41 316.28ZM125.87 321.19L129.57 313.69L133.27 321.19ZM131.74 321.76L135.44 314.26L139.14 321.76ZM137.6 326.86L141.3 319.36L145 326.86ZM143.46 327.61L147.16 320.11L150.86 327.61ZM149.32 328.75L153.02 321.25L156.72 328.75ZM155.19 333.28L158.89 325.78L162.59 333.28ZM161.05 333.66L164.75 326.16L168.45 333.66ZM166.91 335.36L170.61 327.86L174.31 335.36ZM172.78 337.82L176.47 330.32L180.17 337.82ZM178.64 340.84L182.34 333.34L186.04 340.84ZM184.5 342.73L188.2 335.23L191.9 342.73ZM190.36 345.75L194.06 338.25L197.76 345.75ZM196.22 347.64L199.92 340.14L203.62 347.64ZM202.09 349.91L205.79 342.41L209.49 349.91ZM207.95 351.8L211.65 344.3L215.35 351.8ZM213.81 354.82L217.51 347.32L221.21 354.82ZM219.68 357.09L223.38 349.59L227.07 357.09ZM225.54 359.73L229.24 352.23L232.94 359.73ZM231.4 360.49L235.1 352.99L238.8 360.49ZM237.26 362.38L240.96 354.88L244.66 362.38ZM243.12 364.64L246.82 357.14L250.52 364.64ZM248.99 366.91L252.69 359.41L256.39 366.91ZM254.85 368.8L258.55 361.3L262.25 368.8ZM260.71 370.31L264.41 362.81L268.11 370.31ZM266.57 371.82L270.27 364.32L273.97 371.82ZM272.44 373.71L276.14 366.21L279.84 373.71ZM278.3 375.6L282 368.1L285.7 375.6ZM284.16 377.87L287.86 370.37L291.56 377.87ZM290.03 379.76L293.73 372.26L297.43 379.76ZM295.89 380.89L299.59 373.39L303.29 380.89ZM301.75 381.65L305.45 374.15L309.15 381.65ZM307.61 383.91L311.31 376.41L315.01 383.91ZM313.48 385.8L317.18 378.3L320.88 385.8ZM319.34 387.32L323.04 379.82L326.74 387.32ZM325.2 388.83L328.9 381.33L332.6 388.83ZM331.06 389.96L334.76 382.46L338.46 389.96ZM336.93 390.72L340.62 383.22L344.32 390.72ZM342.79 392.98L346.49 385.48L350.19 392.98ZM348.65 395.25L352.35 387.75L356.05 395.25ZM354.51 395.25L358.21 387.75L361.91 395.25ZM360.38 392.61L364.07 385.11L367.77 392.61ZM366.24 388.83L369.94 381.33L373.64 388.83ZM372.1 383.54L375.8 376.04L379.5 383.54ZM377.96 373.71L381.66 366.21L385.36 373.71ZM383.82 366.72L387.52 359.22L391.22 366.72ZM389.69 359.73L393.39 352.23L397.09 359.73ZM395.55 349.72L399.25 342.22L402.95 349.72ZM401.41 342.73L405.11 335.23L408.81 342.73ZM407.27 338.19L410.97 330.69L414.67 338.19ZM413.14 326.86L416.84 319.36L420.54 326.86ZM419 315.52L422.7 308.02L426.4 315.52ZM424.86 304.56L428.56 297.06L432.26 304.56ZM430.73 299.08L434.43 291.58L438.12 299.08ZM436.59 297.95L440.29 290.45L443.99 297.95ZM442.45 293.23L446.15 285.73L449.85 293.23ZM448.31 289.83L452.01 282.33L455.71 289.83ZM454.18 283.78L457.88 276.28L461.57 283.78ZM460.04 285.67L463.74 278.17L467.44 285.67ZM465.9 285.67L469.6 278.17L473.3 285.67ZM471.76 285.67L475.46 278.17L479.16 285.67ZM477.62 288.69L481.32 281.19L485.02 288.69ZM483.49 288.69L487.19 281.19L490.89 288.69ZM489.35 288.69L493.05 281.19L496.75 288.69ZM495.21 286.24L498.91 278.74L502.61 286.24ZM501.07 283.78L504.77 276.28L508.47 283.78ZM506.94 286.24L510.64 278.74L514.34 286.24ZM512.8 290.58L516.5 283.08L520.2 290.58ZM518.66 295.12L522.36 287.62L526.06 295.12ZM524.52 296.25L528.22 288.75L531.92 296.25ZM530.39 295.12L534.09 287.62L537.79 295.12ZM536.25 288.69L539.95 281.19L543.65 288.69ZM542.11 285.67L545.81 278.17L549.51 285.67ZM547.97 281.89L551.67 274.39L555.38 281.89ZM553.84 278.87L557.54 271.37L561.24 278.87ZM559.7 277.36L563.4 269.86L567.1 277.36ZM565.56 279.25L569.26 271.75L572.96 279.25ZM571.42 284.35L575.12 276.85L578.83 284.35ZM577.29 285.67L580.99 278.17L584.69 285.67ZM583.15 283.78L586.85 276.28L590.55 283.78ZM589.01 279.25L592.71 271.75L596.41 279.25ZM594.87 278.87L598.57 271.37L602.27 278.87ZM600.74 276.98L604.44 269.48L608.14 276.98ZM606.6 276.98L610.3 269.48L614 276.98ZM612.46 282.65L616.16 275.15L619.86 282.65ZM618.32 282.65L622.02 275.15L625.73 282.65ZM624.19 282.65L627.89 275.15L631.59 282.65ZM630.05 286.24L633.75 278.74L637.45 286.24ZM635.91 286.24L639.61 278.74L643.31 286.24ZM641.77 286.24L645.48 278.74L649.18 286.24ZM647.64 282.65L651.34 275.15L655.04 282.65ZM653.5 275.47L657.2 267.97L660.9 275.47ZM659.36 272.45L663.06 264.95L666.76 272.45ZM665.22 275.09L668.92 267.59L672.62 275.09ZM671.09 275.09L674.79 267.59L678.49 275.09ZM676.95 277.36L680.65 269.86L684.35 277.36ZM682.81 279.25L686.51 271.75L690.21 279.25ZM688.67 284.35L692.38 276.85L696.08 284.35ZM694.54 286.24L698.24 278.74L701.94 286.24ZM700.4 289.45L704.1 281.95L707.8 289.45ZM706.26 292.47L709.96 284.97L713.66 292.47ZM712.12 294.36L715.82 286.86L719.52 294.36ZM717.99 291.34L721.69 283.84L725.39 291.34ZM723.85 286.24L727.55 278.74L731.25 286.24ZM729.71 284.35L733.41 276.85L737.11 284.35ZM735.57 277.36L739.27 269.86L742.98 277.36ZM741.44 273.58L745.14 266.08L748.84 273.58ZM747.3 270.18L751 262.68L754.7 270.18ZM753.16 265.27L756.86 257.77L760.56 265.27ZM759.02 265.27L762.73 257.77L766.43 265.27ZM764.89 265.27L768.59 257.77L772.29 265.27ZM770.75 264.89L774.45 257.39L778.15 264.89ZM776.61 263L780.31 255.5L784.01 263ZM782.47 264.89L786.17 257.39L789.88 264.89ZM788.34 266.78L792.04 259.28L795.74 266.78ZM794.2 269.99L797.9 262.49L801.6 269.99ZM800.06 272.45L803.76 264.95L807.46 272.45ZM805.92 277.36L809.62 269.86L813.33 277.36ZM811.79 279.25L815.49 271.75L819.19 279.25ZM817.65 282.46L821.35 274.96L825.05 282.46ZM823.51 286.8L827.21 279.3L830.91 286.8ZM829.37 291.72L833.07 284.22L836.77 291.72ZM835.24 296.25L838.94 288.75L842.64 296.25ZM841.1 297.38L844.8 289.88L848.5 297.38ZM846.96 297.01L850.66 289.51L854.36 297.01ZM852.82 289.45L856.52 281.95L860.23 289.45ZM858.69 286.8L862.39 279.3L866.09 286.8ZM864.55 286.24L868.25 278.74L871.95 286.24ZM870.41 289.45L874.11 281.95L877.81 289.45ZM876.27 291.34L879.98 283.84L883.68 291.34ZM882.14 294.36L885.84 286.86L889.54 294.36ZM888 296.25L891.7 288.75L895.4 296.25ZM893.86 301.92L897.56 294.42L901.26 301.92ZM899.72 303.81L903.42 296.31L907.12 303.81ZM905.59 304.94L909.29 297.44L912.99 304.94ZM911.45 304.94L915.15 297.44L918.85 304.94ZM917.31 303.05L921.01 295.55L924.71 303.05ZM923.17 303.05L926.88 295.55L930.58 303.05ZM929.04 303.05L932.74 295.55L936.44 303.05ZM934.9 304.94L938.6 297.44L942.3 304.94ZM940.76 308.72L944.46 301.22L948.16 308.72ZM946.62 309.85L950.32 302.35L954.02 309.85ZM952.49 311.74L956.19 304.24L959.89 311.74ZM958.35 314.95L962.05 307.45L965.75 314.95Z" stroke-width="0" stroke-linejoin="round"/>
</g>
<g fill="#0000ff" stroke="#0000ff" shape-rendering="crispEdges">
<path d="M47.5 151.7L51.1 155.2L51.1 158.9L43.9 158.9L43.9 155.2ZM53.36 150.19L56.96 153.69L56.96 157.39L49.76 157.39L49.76 153.69ZM59.23 151.32L62.83 154.82L62.83 158.52L55.62 158.52L55.62 154.82ZM65.09 165.68L68.69 169.18L68.69 172.88L61.49 172.88L61.49 169.18ZM70.95 183.82L74.55 187.32L74.55 191.02L67.35 191.02L67.35 187.32ZM76.81 186.84L80.41 190.34L80.41 194.04L73.21 194.04L73.21 190.34ZM82.67 189.48L86.27 192.98L86.27 196.68L79.08 196.68L79.08 192.98ZM88.54 196.29L92.14 199.79L92.14 203.49L84.94 203.49L84.94 199.79ZM94.4 198.55L98 202.05L98 205.75L90.8 205.75L90.8 202.05ZM100.26 210.64L103.86 214.14L103.86 217.84L96.66 217.84L96.66 214.14ZM106.12 214.42L109.72 217.92L109.72 221.62L102.53 221.62L102.53 217.92ZM111.99 217.45L115.59 220.95L115.59 224.65L108.39 224.65L108.39 220.95ZM117.85 217.45L121.45 220.95L121.45 224.65L114.25 224.65L114.25 220.95ZM123.71 224.25L127.31 227.75L127.31 231.45L120.11 231.45L120.11 227.75ZM129.57 231.81L133.17 235.31L133.17 239.01L125.97 239.01L125.97 235.31ZM135.44 240.87L139.04 244.37L139.04 248.07L131.84 248.07L131.84 244.37ZM141.3 245.41L144.9 248.91L144.9 252.61L137.7 252.61L137.7 248.91ZM147.16 255.61L150.76 259.11L150.76 262.81L143.56 262.81L143.56 259.11ZM153.02 264.49L156.62 267.99L156.62 271.69L149.42 271.69L149.42 267.99ZM158.89 269.4L162.49 272.9L162.49 276.6L155.29 276.6L155.29 272.9ZM164.75 270.16L168.35 273.66L168.35 277.36L161.15 277.36L161.15 273.66ZM170.61 272.05L174.21 275.55L174.21 279.25L167.01 279.25L167.01 275.55ZM176.47 276.96L180.07 280.46L180.07 284.16L172.88 284.16L172.88 280.46ZM182.34 276.96L185.94 280.46L185.94 284.16L178.74 284.16L178.74 280.46ZM188.2 276.96L191.8 280.46L191.8 284.16L184.6 284.16L184.6 280.46ZM194.06 276.96L197.66 280.46L197.66 284.16L190.46 284.16L190.46 280.46ZM199.92 278.85L203.52 282.35L203.52 286.05L196.32 286.05L196.32 282.35ZM205.79 286.41L209.39 289.91L209.39 293.61L202.19 293.61L202.19 289.91ZM211.65 293.96L215.25 297.46L215.25 301.16L208.05 301.16L208.05 297.46ZM217.51 293.96L221.11 297.46L221.11 301.16L213.91 301.16L213.91 297.46ZM223.38 301.52L226.97 305.02L226.97 308.72L219.78 308.72L219.78 305.02ZM229.24 303.03L232.84 306.53L232.84 310.23L225.64 310.23L225.64 306.53ZM235.1 304.54L238.7 308.04L238.7 311.74L231.5 311.74L231.5 308.04ZM240.96 304.54L244.56 308.04L244.56 311.74L237.36 311.74L237.36 308.04ZM246.82 310.21L250.42 313.71L250.42 317.41L243.22 317.41L243.22 313.71ZM252.69 317.01L256.29 320.51L256.29 324.21L249.09 324.21L249.09 320.51ZM258.55 317.01L262.15 320.51L262.15 324.21L254.95 324.21L254.95 320.51ZM264.41 304.92L268.01 308.42L268.01 312.12L260.81 312.12L260.81 308.42ZM270.27 303.41L273.88 306.91L273.88 310.61L266.67 310.61L266.67 306.91ZM276.14 303.41L279.74 306.91L279.74 310.61L272.54 310.61L272.54 306.91ZM282 303.41L285.6 306.91L285.6 310.61L278.4 310.61L278.4 306.91ZM287.86 303.41L291.46 306.91L291.46 310.61L284.26 310.61L284.26 306.91ZM293.73 301.52L297.33 305.02L297.33 308.72L290.12 308.72L290.12 305.02ZM299.59 309.46L303.19 312.96L303.19 316.66L295.99 316.66L295.99 312.96ZM305.45 312.86L309.05 316.36L309.05 320.06L301.85 320.06L301.85 316.36ZM311.31 312.86L314.91 316.36L314.91 320.06L307.71 320.06L307.71 316.36ZM317.18 310.21L320.78 313.71L320.78 317.41L313.57 317.41L313.57 313.71ZM323.04 309.83L326.64 313.33L326.64 317.03L319.44 317.03L319.44 313.33ZM328.9 308.32L332.5 311.82L332.5 315.52L325.3 315.52L325.3 311.82ZM334.76 308.32L338.36 311.82L338.36 315.52L331.16 315.52L331.16 311.82ZM340.62 309.08L344.23 312.58L344.23 316.28L337.02 316.28L337.02 312.58ZM346.49 321.17L350.09 324.67L350.09 328.37L342.89 328.37L342.89 324.67ZM352.35 345.54L355.95 349.04L355.95 352.74L348.75 352.74L348.75 349.04ZM358.21 348.56L361.81 352.06L361.81 355.76L354.61 355.76L354.61 352.06ZM364.07 353.66L367.68 357.16L367.68 360.86L360.47 360.86L360.47 357.16ZM369.94 355.55L373.54 359.05L373.54 362.75L366.34 362.75L366.34 359.05ZM375.8 350.64L379.4 354.14L379.4 357.84L372.2 357.84L372.2 354.14ZM381.66 345.54L385.26 349.04L385.26 352.74L378.06 352.74L378.06 349.04ZM387.52 289.43L391.12 292.93L391.12 296.63L383.92 296.63L383.92 292.93ZM393.39 246.73L396.99 250.23L396.99 253.93L389.79 253.93L389.79 250.23ZM399.25 237.28L402.85 240.78L402.85 244.48L395.65 244.48L395.65 240.78ZM405.11 243.71L408.71 247.21L408.71 250.91L401.51 250.91L401.51 247.21ZM410.97 248.62L414.57 252.12L414.57 255.82L407.37 255.82L407.37 252.12ZM416.84 228.97L420.44 232.47L420.44 236.17L413.24 236.17L413.24 232.47ZM422.7 236.53L426.3 240.03L426.3 243.73L419.1 243.73L419.1 240.03ZM428.56 251.26L432.16 254.76L432.16 258.46L424.96 258.46L424.96 254.76ZM434.43 235.39L438.03 238.89L438.03 242.59L430.82 242.59L430.82 238.89ZM440.29 263.36L443.89 266.86L443.89 270.56L436.69 270.56L436.69 266.86ZM446.15 261.47L449.75 264.97L449.75 268.67L442.55 268.67L442.55 264.97ZM452.01 242.57L455.61 246.07L455.61 249.77L448.41 249.77L448.41 246.07ZM457.88 270.91L461.48 274.41L461.48 278.11L454.27 278.11L454.27 274.41ZM463.74 271.67L467.34 275.17L467.34 278.87L460.14 278.87L460.14 275.17ZM469.6 296.61L473.2 300.11L473.2 303.81L466 303.81L466 300.11ZM475.46 286.41L479.06 289.91L479.06 293.61L471.86 293.61L471.86 289.91ZM481.32 262.98L484.93 266.48L484.93 270.18L477.72 270.18L477.72 266.48ZM487.19 271.67L490.79 275.17L490.79 278.87L483.59 278.87L483.59 275.17ZM493.05 270.91L496.65 274.41L496.65 278.11L489.45 278.11L489.45 274.41ZM498.91 244.46L502.51 247.96L502.51 251.66L495.31 251.66L495.31 247.96ZM504.77 188.54L508.38 192.04L508.38 195.74L501.17 195.74L501.17 192.04ZM510.64 199.5L514.24 203L514.24 206.7L507.04 206.7L507.04 203ZM516.5 218.39L520.1 221.89L520.1 225.59L512.9 225.59L512.9 221.89ZM522.36 215.56L525.96 219.06L525.96 222.76L518.76 222.76L518.76 219.06ZM528.22 220.66L531.82 224.16L531.82 227.86L524.62 227.86L524.62 224.16ZM534.09 170.02L537.69 173.52L537.69 177.22L530.49 177.22L530.49 173.52ZM539.95 131.48L543.55 134.98L543.55 138.68L536.35 138.68L536.35 134.98ZM545.81 138.66L549.41 142.16L549.41 145.86L542.21 145.86L542.21 142.16ZM551.67 124.68L555.27 128.18L555.27 131.88L548.07 131.88L548.07 128.18ZM557.54 102.77L561.14 106.27L561.14 109.97L553.94 109.97L553.94 106.27ZM563.4 66.87L567 70.37L567 74.07L559.8 74.07L559.8 70.37ZM569.26 83.5L572.86 87L572.86 90.7L565.66 90.7L565.66 87ZM575.12 281.49L578.73 284.99L578.73 288.69L571.52 288.69L571.52 284.99ZM580.99 303.41L584.59 306.91L584.59 310.61L577.39 310.61L577.39 306.91ZM586.85 301.52L590.45 305.02L590.45 308.72L583.25 308.72L583.25 305.02ZM592.71 252.02L596.31 255.52L596.31 259.22L589.11 259.22L589.11 255.52ZM598.57 185.52L602.17 189.02L602.17 192.72L594.97 192.72L594.97 189.02ZM604.44 175.69L608.04 179.19L608.04 182.89L600.84 182.89L600.84 179.19ZM610.3 128.46L613.9 131.96L613.9 135.66L606.7 135.66L606.7 131.96ZM616.16 188.54L619.76 192.04L619.76 195.74L612.56 195.74L612.56 192.04ZM622.02 263.36L625.62 266.86L625.62 270.56L618.42 270.56L618.42 266.86ZM627.89 213.48L631.49 216.98L631.49 220.68L624.29 220.68L624.29 216.98ZM633.75 178.53L637.35 182.03L637.35 185.73L630.15 185.73L630.15 182.03ZM639.61 148.11L643.21 151.61L643.21 155.31L636.01 155.31L636.01 151.61ZM645.48 128.46L649.08 131.96L649.08 135.66L641.88 135.66L641.88 131.96ZM651.34 114.48L654.94 117.98L654.94 121.68L647.74 121.68L647.74 117.98ZM657.2 100.5L660.8 104L660.8 107.7L653.6 107.7L653.6 104ZM663.06 154.53L666.66 158.03L666.66 161.73L659.46 161.73L659.46 158.03ZM668.92 192.7L672.52 196.2L672.52 199.9L665.32 199.9L665.32 196.2ZM674.79 180.61L678.39 184.11L678.39 187.81L671.19 187.81L671.19 184.11ZM680.65 211.59L684.25 215.09L684.25 218.79L677.05 218.79L677.05 215.09ZM686.51 228.59L690.11 232.09L690.11 235.79L682.91 235.79L682.91 232.09ZM692.38 254.29L695.98 257.79L695.98 261.49L688.77 261.49L688.77 257.79ZM698.24 292.45L701.84 295.95L701.84 299.65L694.64 299.65L694.64 295.95ZM704.1 308.7L707.7 312.2L707.7 315.9L700.5 315.9L700.5 312.2ZM709.96 321.55L713.56 325.05L713.56 328.75L706.36 328.75L706.36 325.05ZM715.82 331.56L719.42 335.06L719.42 338.76L712.22 338.76L712.22 335.06ZM721.69 339.68L725.29 343.18L725.29 346.88L718.09 346.88L718.09 343.18ZM727.55 346.11L731.15 349.61L731.15 353.31L723.95 353.31L723.95 349.61ZM733.41 353.66L737.01 357.16L737.01 360.86L729.81 360.86L729.81 357.16ZM739.27 355.55L742.88 359.05L742.88 362.75L735.67 362.75L735.67 359.05ZM745.14 361.98L748.74 365.48L748.74 369.18L741.54 369.18L741.54 365.48ZM751 361.98L754.6 365.48L754.6 369.18L747.4 369.18L747.4 365.48ZM756.86 360.09L760.46 363.59L760.46 367.29L753.26 367.29L753.26 363.59ZM762.73 361.6L766.33 365.1L766.33 368.8L759.12 368.8L759.12 365.1ZM768.59 363.49L772.19 366.99L772.19 370.69L764.99 370.69L764.99 366.99ZM774.45 363.49L778.05 366.99L778.05 370.69L770.85 370.69L770.85 366.99ZM780.31 368.78L783.91 372.28L783.91 375.98L776.71 375.98L776.71 372.28ZM786.17 378.98L789.77 382.48L789.77 386.18L782.57 386.18L782.57 382.48ZM792.04 383.52L795.64 387.02L795.64 390.72L788.44 390.72L788.44 387.02ZM797.9 388.05L801.5 391.55L801.5 395.25L794.3 395.25L794.3 391.55ZM803.76 388.05L807.36 391.55L807.36 395.25L800.16 395.25L800.16 391.55ZM809.62 385.03L813.23 388.53L813.23 392.23L806.02 392.23L806.02 388.53ZM815.49 389.94L819.09 393.44L819.09 397.14L811.89 397.14L811.89 393.44ZM821.35 389.94L824.95 393.44L824.95 397.14L817.75 397.14L817.75 393.44ZM827.21 389.94L830.81 393.44L830.81 397.14L823.61 397.14L823.61 393.44ZM833.07 392.96L836.67 396.46L836.67 400.16L829.47 400.16L829.47 396.46ZM838.94 390.32L842.54 393.82L842.54 397.52L835.34 397.52L835.34 393.82ZM844.8 397.87L848.4 401.37L848.4 405.07L841.2 405.07L841.2 401.37ZM850.66 394.66L854.26 398.16L854.26 401.86L847.06 401.86L847.06 398.16ZM856.52 399.76L860.12 403.26L860.12 406.96L852.92 406.96L852.92 403.26ZM862.39 404.3L865.99 407.8L865.99 411.5L858.79 411.5L858.79 407.8ZM868.25 414.5L871.85 418L871.85 421.7L864.65 421.7L864.65 418ZM874.11 421.49L877.71 424.99L877.71 428.69L870.51 428.69L870.51 424.99ZM879.98 416.01L883.58 419.51L883.58 423.21L876.38 423.21L876.38 419.51ZM885.84 408.83L889.44 412.33L889.44 416.03L882.24 416.03L882.24 412.33ZM891.7 400.52L895.3 404.02L895.3 407.72L888.1 407.72L888.1 404.02ZM897.56 390.51L901.16 394.01L901.16 397.71L893.96 397.71L893.96 394.01ZM903.42 385.41L907.02 388.91L907.02 392.61L899.82 392.61L899.82 388.91ZM909.29 383.52L912.89 387.02L912.89 390.72L905.69 390.72L905.69 387.02ZM915.15 380.87L918.75 384.37L918.75 388.07L911.55 388.07L911.55 384.37ZM921.01 375.58L924.61 379.08L924.61 382.78L917.41 382.78L917.41 379.08ZM926.88 379.36L930.48 382.86L930.48 386.56L923.27 386.56L923.27 382.86ZM932.74 380.87L936.34 384.37L936.34 388.07L929.14 388.07L929.14 384.37ZM938.6 388.43L942.2 391.93L942.2 395.63L935 395.63L935 391.93ZM944.46 397.5L948.06 401L948.06 404.7L940.86 404.7L940.86 401ZM950.32 402.03L953.92 405.53L953.92 409.23L946.72 409.23L946.72 405.53ZM956.19 408.83L959.79 412.33L959.79 416.03L952.59 416.03L952.59 412.33ZM962.05 416.39L965.65 419.89L965.65 423.59L958.45 423.59L958.45 419.89Z" stroke-width="0" stroke-linejoin="round"/>
</g>
<g fill="#ff0000" stroke="#ff0000" shape-rendering="crispEdges">
<path d="M43.5 324.31L51.5 324.31L47.5 331.61ZM49.36 324.31L57.36 324.31L53.36 331.61ZM55.23 324.31L63.23 324.31L59.23 331.61ZM61.09 324.31L69.09 324.31L65.09 331.61ZM66.95 362.1L74.95 362.1L70.95 369.4ZM72.81 362.1L80.81 362.1L76.81 369.4ZM78.67 362.1L86.67 362.1L82.67 369.4ZM84.54 362.1L92.54 362.1L88.54 369.4ZM90.4 362.1L98.4 362.1L94.4 369.4ZM96.26 362.1L104.26 362.1L100.26 369.4ZM102.12 362.1L110.12 362.1L106.12 369.4ZM107.99 362.1L115.99 362.1L111.99 369.4ZM113.85 362.1L121.85 362.1L117.85 369.4ZM119.71 362.1L127.71 362.1L123.71 369.4ZM125.57 362.1L133.57 362.1L129.57 369.4ZM131.44 362.1L139.44 362.1L135.44 369.4ZM137.3 362.1L145.3 362.1L141.3 369.4ZM143.16 362.1L151.16 362.1L147.16 369.4ZM149.02 362.1L157.02 362.1L153.02 369.4ZM154.89 362.1L162.89 362.1L158.89 369.4ZM160.75 362.1L168.75 362.1L164.75 369.4ZM166.61 362.1L174.61 362.1L170.61 369.4ZM172.47 362.1L180.47 362.1L176.47 369.4ZM178.34 362.1L186.34 362.1L182.34 369.4ZM184.2 362.1L192.2 362.1L188.2 369.4ZM190.06 362.1L198.06 362.1L194.06 369.4ZM195.92 362.1L203.92 362.1L199.92 369.4ZM201.79 362.1L209.79 362.1L205.79 369.4ZM207.65 362.1L215.65 362.1L211.65 369.4ZM213.51 362.1L221.51 362.1L217.51 369.4ZM219.38 362.1L227.38 362.1L223.38 369.4ZM225.24 362.1L233.24 362.1L229.24 369.4ZM231.1 362.1L239.1 362.1L235.1 369.4ZM236.96 362.1L244.96 362.1L240.96 369.4ZM242.82 362.1L250.82 362.1L246.82 369.4ZM248.69 362.1L256.69 362.1L252.69 369.4ZM254.55 362.1L262.55 362.1L258.55 369.4ZM260.41 362.1L268.41 362.1L264.41 369.4ZM266.27 362.1L274.27 362.1L270.27 369.4ZM272.14 362.1L280.14 362.1L276.14 369.4ZM278 362.1L286 362.1L282 369.4ZM283.86 362.1L291.86 362.1L287.86 369.4ZM289.73 362.1L297.73 362.1L293.73 369.4ZM295.59 362.1L303.59 362.1L299.59 369.4ZM301.45 362.1L309.45 362.1L305.45 369.4ZM307.31 362.1L315.31 362.1L311.31 369.4ZM313.18 362.1L321.18 362.1L317.18 369.4ZM319.04 362.1L327.04 362.1L323.04 369.4ZM324.9 362.1L332.9 362.1L328.9 369.4ZM330.76 362.1L338.76 362.1L334.76 369.4ZM336.62 362.1L344.62 362.1L340.62 369.4ZM342.49 362.1L350.49 362.1L346.49 369.4ZM348.35 286.53L356.35 286.53L352.35 293.83ZM354.21 286.53L362.21 286.53L358.21 293.83ZM360.07 286.53L368.07 286.53L364.07 293.83ZM365.94 286.53L373.94 286.53L369.94 293.83ZM371.8 286.53L379.8 286.53L375.8 293.83ZM377.66 286.53L385.66 286.53L381.66 293.83ZM383.52 286.53L391.52 286.53L387.52 293.83ZM389.39 286.53L397.39 286.53L393.39 293.83ZM395.25 286.53L403.25 286.53L399.25 293.83ZM401.11 286.53L409.11 286.53L405.11 293.83ZM406.97 286.53L414.97 286.53L410.97 293.83ZM412.84 286.53L420.84 286.53L416.84 293.83ZM418.7 286.53L426.7 286.53L422.7 293.83ZM424.56 286.53L432.56 286.53L428.56 293.83ZM430.43 286.53L438.43 286.53L434.43 293.83ZM436.29 286.53L444.29 286.53L440.29 293.83ZM442.15 324.31L450.15 324.31L446.15 331.61ZM448.01 324.31L456.01 324.31L452.01 331.61ZM453.88 286.53L461.88 286.53L457.88 293.83ZM459.74 286.53L467.74 286.53L463.74 293.83ZM465.6 324.31L473.6 324.31L469.6 331.61ZM471.46 286.53L479.46 286.53L475.46 293.83ZM477.32 324.31L485.32 324.31L481.32 331.61ZM483.19 324.31L491.19 324.31L487.19 331.61ZM489.05 324.31L497.05 324.31L493.05 331.61ZM494.91 324.31L502.91 324.31L498.91 331.61ZM500.77 324.31L508.77 324.31L504.77 331.61ZM506.64 324.31L514.64 324.31L510.64 331.61ZM512.5 324.31L520.5 324.31L516.5 331.61ZM518.36 286.53L526.36 286.53L522.36 293.83ZM524.22 286.53L532.22 286.53L528.22 293.83ZM530.09 286.53L538.09 286.53L534.09 293.83ZM535.95 324.31L543.95 324.31L539.95 331.61ZM541.81 324.31L549.81 324.31L545.81 331.61ZM547.67 324.31L555.67 324.31L551.67 331.61ZM553.54 324.31L561.54 324.31L557.54 331.61ZM559.4 324.31L567.4 324.31L563.4 331.61ZM565.26 324.31L573.26 324.31L569.26 331.61ZM571.12 286.53L579.12 286.53L575.12 293.83ZM576.99 286.53L584.99 286.53L580.99 293.83ZM582.85 324.31L590.85 324.31L586.85 331.61ZM588.71 324.31L596.71 324.31L592.71 331.61ZM594.57 324.31L602.57 324.31L598.57 331.61ZM600.44 324.31L608.44 324.31L604.44 331.61ZM606.3 324.31L614.3 324.31L610.3 331.61ZM612.16 324.31L620.16 324.31L616.16 331.61ZM618.02 324.31L626.02 324.31L622.02 331.61ZM623.89 324.31L631.89 324.31L627.89 331.61ZM629.75 286.53L637.75 286.53L633.75 293.83ZM635.61 286.53L643.61 286.53L639.61 293.83ZM641.48 286.53L649.48 286.53L645.48 293.83ZM647.34 324.31L655.34 324.31L651.34 331.61ZM653.2 324.31L661.2 324.31L657.2 331.61ZM659.06 324.31L667.06 324.31L663.06 331.61ZM664.92 324.31L672.92 324.31L668.92 331.61ZM670.79 324.31L678.79 324.31L674.79 331.61ZM676.65 324.31L684.65 324.31L680.65 331.61ZM682.51 324.31L690.51 324.31L686.51 331.61ZM688.38 324.31L696.38 324.31L692.38 331.61ZM694.24 324.31L702.24 324.31L698.24 331.61ZM700.1 324.31L708.1 324.31L704.1 331.61ZM705.96 286.53L713.96 286.53L709.96 293.83ZM711.82 286.53L719.82 286.53L715.82 293.83ZM717.69 286.53L725.69 286.53L721.69 293.83ZM723.55 286.53L731.55 286.53L727.55 293.83ZM729.41 286.53L737.41 286.53L733.41 293.83ZM735.27 286.53L743.27 286.53L739.27 293.83ZM741.14 286.53L749.14 286.53L745.14 293.83ZM747 324.31L755 324.31L751 331.61ZM752.86 324.31L760.86 324.31L756.86 331.61ZM758.73 286.53L766.73 286.53L762.73 293.83ZM764.59 286.53L772.59 286.53L768.59 293.83ZM770.45 324.31L778.45 324.31L774.45 331.61ZM776.31 324.31L784.31 324.31L780.31 331.61ZM782.17 324.31L790.17 324.31L786.17 331.61ZM788.04 324.31L796.04 324.31L792.04 331.61ZM793.9 324.31L801.9 324.31L797.9 331.61ZM799.76 324.31L807.76 324.31L803.76 331.61ZM805.62 324.31L813.62 324.31L809.62 331.61ZM811.49 324.31L819.49 324.31L815.49 331.61ZM817.35 324.31L825.35 324.31L821.35 331.61ZM823.21 324.31L831.21 324.31L827.21 331.61ZM829.07 324.31L837.07 324.31L833.07 331.61ZM834.94 286.53L842.94 286.53L838.94 293.83ZM840.8 286.53L848.8 286.53L844.8 293.83ZM846.66 286.53L854.66 286.53L850.66 293.83ZM852.52 324.31L860.52 324.31L856.52 331.61ZM858.39 324.31L866.39 324.31L862.39 331.61ZM864.25 324.31L872.25 324.31L868.25 331.61ZM870.11 324.31L878.11 324.31L874.11 331.61ZM875.98 324.31L883.98 324.31L879.98 331.61ZM881.84 324.31L889.84 324.31L885.84 331.61ZM887.7 324.31L895.7 324.31L891.7 331.61ZM893.56 324.31L901.56 324.31L897.56 331.61ZM899.42 286.53L907.42 286.53L903.42 293.83ZM905.29 286.53L913.29 286.53L909.29 293.83ZM911.15 362.1L919.15 362.1L915.15 369.4ZM917.01 362.1L925.01 362.1L921.01 369.4ZM922.88 362.1L930.88 362.1L926.88 369.4ZM928.74 362.1L936.74 362.1L932.74 369.4ZM934.6 362.1L942.6 362.1L938.6 369.4ZM940.46 362.1L948.46 362.1L944.46 369.4ZM946.32 362.1L954.32 362.1L950.32 369.4ZM952.19 362.1L960.19 362.1L956.19 369.4ZM958.05 362.1L966.05 362.1L962.05 369.4Z" stroke-width="0" stroke-linejoin="round"/>
</g>
<g stroke="#000" stroke-width="1" shape-rendering="crispEdges">
<line x1="47.5" y1="25" x2="47.5" y2="560"/>
<line x1="985.5" y1="25" x2="985.5" y2="560"/>
</g>
<text transform="translate(36.5 559) scale(0.9997 1)" font-size="11.67" font-weight="bold" text-anchor="end">-5</text>
<text transform="translate(36.5 521) scale(0.9997 1)" font-size="11.67" font-weight="bold" text-anchor="end">-4</text>
<text transform="translate(36.5 483) scale(0.9997 1)" font-size="11.67" font-weight="bold" text-anchor="end">-3</text>
<text transform="translate(36.5 446) scale(0.9997 1)" font-size="11.67" font-weight="bold" text-anchor="end">-2</text>
<text transform="translate(36.5 408) scale(0.9997 1)" font-size="11.67" font-weight="bold" text-anchor="end">-1</text>
<text transform="translate(36.5 370) scale(0.9997 1)" font-size="11.67" font-weight="bold" text-anchor="end">0</text>
<text transform="translate(36.5 332) scale(0.9997 1)" font-size="11.67" font-weight="bold" text-anchor="end">1</text>
<text transform="translate(36.5 295) scale(0.9997 1)" font-size="11.67" font-weight="bold" text-anchor="end">2</text>
<text transform="translate(36.5 257) scale(0.9997 1)" font-size="11.67" font-weight="bold" text-anchor="end">3</text>
<text transform="translate(36.5 219) scale(0.9997 1)" font-size="11.67" font-weight="bold" text-anchor="end">4</text>
<text transform="translate(36.5 181) scale(0.9997 1)" font-size="11.67" font-weight="bold" text-anchor="end">5</text>
<text transform="translate(36.5 143) scale(0.9997 1)" font-size="11.67" font-weight="bold" text-anchor="end">6</text>
<text transform="translate(36.5 106) scale(0.9997 1)" font-size="11.67" font-weight="bold" text-anchor="end">7</text>
<text transform="translate(36.5 68) scale(0.9997 1)" font-size="11.67" font-weight="bold" text-anchor="end">8</text>
<text transform="translate(36.5 30) scale(0.9997 1)" font-size="11.67" font-weight="bold" text-anchor="end">9</text>
<text transform="translate(46.8 575) scale(0.9997 1)" font-size="11.67" font-weight="bold" text-anchor="middle">0</text>
<text transform="translate(105.8 575) scale(0.9997 1)" font-size="11.67" font-weight="bold" text-anchor="middle">10</text>
<text transform="translate(163.8 575) scale(0.9997 1)" font-size="11.67" font-weight="bold" text-anchor="middle">20</text>
<text transform="translate(222.8 575) scale(0.9997 1)" font-size="11.67" font-weight="bold" text-anchor="middle">30</text>
<text transform="translate(281.8 575) scale(0.9997 1)" font-size="11.67" font-weight="bold" text-anchor="middle">40</text>
<text transform="translate(339.8 575) scale(0.9997 1)" font-size="11.67" font-weight="bold" text-anchor="middle">50</text>
<text transform="translate(398.8 575) scale(0.9997 1)" font-size="11.67" font-weight="bold" text-anchor="middle">60</text>
<text transform="translate(456.8 575) scale(0.9997 1)" font-size="11.67" font-weight="bold" text-anchor="middle">70</text>
<text transform="translate(515.8 575) scale(0.9997 1)" font-size="11.67" font-weight="bold" text-anchor="middle">80</text>
<text transform="translate(574.8 575) scale(0.9997 1)" font-size="11.67" font-weight="bold" text-anchor="middle">90</text>
<text transform="translate(632.8 575) scale(0.9997 1)" font-size="11.67" font-weight="bold" text-anchor="middle">100</text>
<text transform="translate(691.8 575) scale(0.9997 1)" font-size="11.67" font-weight="bold" text-anchor="middle">110</text>
<text transform="translate(750.8 575) scale(0.9997 1)" font-size="11.67" font-weight="bold" text-anchor="middle">120</text>
<text transform="translate(808.8 575) scale(0.9997 1)" font-size="11.67" font-weight="bold" text-anchor="middle">130</text>
<text transform="translate(867.8 575) scale(0.9997 1)" font-size="11.67" font-weight="bold" text-anchor="middle">140</text>
<text transform="translate(925.8 575) scale(0.9997 1)" font-size="11.67" font-weight="bold" text-anchor="middle">150</text>
<text transform="translate(984.8 575) scale(0.9997 1)" font-size="11.67" font-weight="bold" text-anchor="middle">160</text>
<text transform="translate(500 18) scale(1 1)" font-size="15" font-weight="bold" text-anchor="middle">Heating in Essex</text>
<text transform="translate(515.7 593) scale(0.9997 1)" font-size="11.67" font-weight="bold" text-anchor="middle">Start Date 2026-03-24 21:50, 1 day (10 min/step)</text>
<text transform="translate(16 290) rotate(-90) scale(0.9997 1)" font-size="11.67" font-weight="bold" text-anchor="middle">Degrees</text>
<rect x="710.5" y="20.5" width="78" height="98" fill="#fff" stroke="#000" stroke-width="1" shape-rendering="crispEdges"/>
<rect x="776.5" y="27.5" width="6" height="15" fill="#87ceeb" stroke="#000" stroke-width="1" shape-rendering="crispEdges"/>
<text transform="translate(769.5 39.5) scale(0.8696 1)" font-size="11.5" text-anchor="end">Lounge-20</text>
<rect x="776.5" y="44.5" width="6" height="15" fill="#00ff00" stroke="#000" stroke-width="1" shape-rendering="crispEdges"/>
<text transform="translate(769.5 56.5) scale(0.8696 1)" font-size="11.5" text-anchor="end">Hall-20</text>
<rect x="776.5" y="61.5" width="6" height="15" fill="#ffa500" stroke="#000" stroke-width="1" shape-rendering="crispEdges"/>
<text transform="translate(769.5 73.5) scale(0.8696 1)" font-size="11.5" text-anchor="end">Dining-20</text>
<rect x="776.5" y="78.5" width="6" height="15" fill="#0000ff" stroke="#000" stroke-width="1" shape-rendering="crispEdges"/>
<text transform="translate(769.5 90.5) scale(0.8696 1)" font-size="11.5" text-anchor="end">Outside-5</text>
<rect x="776.5" y="95.5" width="6" height="15" fill="#ff0000" stroke="#000" stroke-width="1" shape-rendering="crispEdges"/>
<text transform="translate(769.5 107.5) scale(0.8696 1)" font-size="11.5" text-anchor="end">Heat</text>
</svg></body></html>
